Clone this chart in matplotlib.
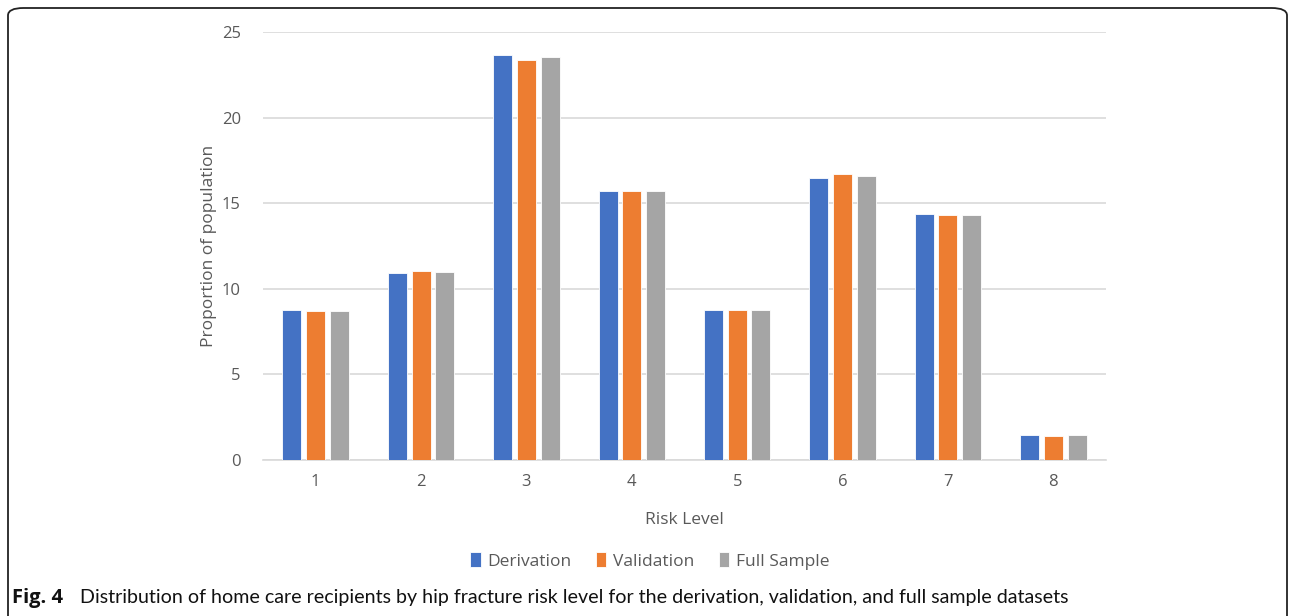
import matplotlib
matplotlib.use("Agg")
import matplotlib.pyplot as plt
from matplotlib.patches import FancyBboxPatch
import numpy as np

categories = ["1", "2", "3", "4", "5", "6", "7", "8"]
derivation = [8.74, 10.93, 23.66, 15.70, 8.74, 16.47, 14.39, 1.47]
validation = [8.68, 11.03, 23.37, 15.74, 8.74, 16.72, 14.33, 1.42]
full_sample = [8.68, 10.99, 23.55, 15.69, 8.74, 16.57, 14.33, 1.47]
series_names = ["Derivation", "Validation", "Full Sample"]
colors = ["#4472C4", "#ED7D31", "#A5A5A5"]

plt.rcParams['font.family'] = ['Open Sans', 'DejaVu Sans']

W, H = 1290, 616
fig = plt.figure(figsize=(W / 100, H / 100), dpi=100)

# frame
frame = FancyBboxPatch((8 / W, -20 / H), (1279 / W), (628 / H),
                       boxstyle="round,pad=0,rounding_size=0.012",
                       transform=fig.transFigure, fill=False,
                       edgecolor="#222222", linewidth=1.3, clip_on=False)
fig.patches.append(frame)

ax = fig.add_axes([263 / W, (H - 460) / H, (1106 - 263) / W, (460 - 32) / H])
x = np.arange(1, len(categories) + 1)
offset = 0.225
width = 0.18
for i, (vals, name, c) in enumerate(zip([derivation, validation, full_sample], series_names, colors)):
    ax.bar(x + (i - 1) * offset, vals, width=width, color=c, label=name,
           edgecolor="white", linewidth=0.6, zorder=3)

ax.set_xlim(0.5, 8.5)
ax.set_ylim(0, 25)
ax.set_yticks([0, 5, 10, 15, 20, 25])
ax.set_xticks(x)
ax.set_xticklabels(categories)
ax.yaxis.grid(True, color="#D9D9D9", linewidth=1.2, zorder=0)
for s in ["top", "right", "left"]:
    ax.spines[s].set_visible(False)
ax.spines["bottom"].set_color("#D9D9D9")
ax.spines["bottom"].set_linewidth(1.2)
ax.tick_params(axis="both", length=0, labelsize=12, colors="#595959", pad=10)
ax.tick_params(axis="y", pad=16)
ax.set_ylabel("Proportion of population", fontsize=12.5, color="#595959", labelpad=3)
ax.set_xlabel("Risk Level", fontsize=12.5, color="#595959", labelpad=16)

leg = fig.legend(loc="center", bbox_to_anchor=(650 / W, (H - 561) / H), ncol=3,
                 frameon=False, fontsize=12.5, handlelength=0.6, handleheight=0.9,
                 handletextpad=0.4, columnspacing=1.4)
for t in leg.get_texts():
    t.set_color("#595959")

fig.text(12 / W, (H - 598) / H, "Fig. 4", fontsize=14.5, fontweight="bold",
         va="center", ha="left", color="#111111", family=["Open Sans", "DejaVu Sans"])
fig.text(80 / W, (H - 598) / H,
         "Distribution of home care recipients by hip fracture risk level for the derivation, validation, and full sample datasets",
         fontsize=14.1, va="center", ha="left", color="#111111", family=["Lato", "DejaVu Sans"])

fig.savefig("out.png", dpi=100)
